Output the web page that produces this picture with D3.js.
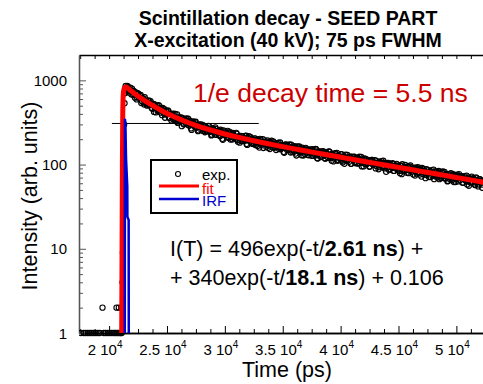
<!DOCTYPE html>
<html>
<head>
<meta charset="utf-8">
<script src="https://cdn.jsdelivr.net/npm/d3@7"></script>
<style>
  body { margin: 0; background: #fff; }
  svg { display: block; font-family: "Liberation Sans", Arial, sans-serif; }
</style>
</head>
<body>
<svg id="chart" width="483" height="384"></svg>
<script>
// ---- data ----
// x tick values (ps) and labels
var xMajor = [20000, 25000, 30000, 35000, 40000, 45000, 50000];
var xMajorLabel = ['2', '2.5', '3', '3.5', '4', '4.5', '5'];
var yMajor = [1, 10, 100, 1000];
var yMajorLabel = ['1', '10', '100', '1000'];

// exp. points before / on the rising edge (time ps, counts)
var preT = [17556, 17815, 17988, 18160, 18333, 18506, 18678, 18851, 19024, 19196,
            19542, 19715, 19887, 20060, 20233, 20406, 20535, 20665, 20794, 20924,
            21010, 21096, 19430, 20639, 20838, 21071,
            21157, 21190, 21215, 21300, 21335, 21365, 21395];
var preI = [1, 1, 1, 1, 1, 1, 1, 1, 1, 1,
            1, 1, 1, 1, 1, 1, 1, 1, 1, 1,
            1, 1, 2, 2, 2, 2,
            4, 9, 76, 300, 535, 703, 805];

// exp. points on the decay: two interleaved runs of 100 ps bins from the peak
var decayStart = 21430, decayStep = 100;
var decayA = [
  861, 766, 836, 754, 819, 681, 737, 748, 622, 702,
  627, 691, 619, 674, 563, 610, 516, 596, 563, 513,
  578, 509, 536, 460, 526, 482, 416, 502, 443, 498,
  414, 447, 470, 403, 359, 435, 396, 430, 357, 398,
  399, 345, 373, 400, 337, 312, 363, 334, 364, 332,
  301, 347, 310, 329, 350, 290, 305, 258, 316, 303,
  320, 276, 294, 254, 293, 299, 268, 251, 286, 263,
  249, 271, 286, 248, 222, 266, 254, 227, 266, 239,
  252, 223, 259, 234, 197, 246, 221, 233, 251, 207,
  239, 214, 198, 229, 218, 202, 232, 186, 216, 204,
  190, 217, 208, 192, 221, 171, 206, 195, 211, 180,
  198, 174, 203, 185, 166, 195, 202, 172, 184, 157,
  194, 172, 180, 158, 186, 171, 192, 160, 176, 162,
  149, 176, 182, 161, 152, 171, 165, 138, 172, 158,
  169, 149, 160, 172, 141, 149, 165, 135, 157, 147,
  164, 142, 129, 151, 156, 133, 146, 151, 129, 145,
  136, 152, 127, 140, 153, 129, 118, 143, 139, 125,
  143, 130, 119, 139, 133, 120, 142, 122, 111, 132,
  118, 137, 126, 111, 130, 119, 132, 111, 123, 102,
  131, 114, 122, 108, 124, 102, 117, 123, 107, 118,
  103, 118, 124, 108, 95, 112, 118, 101, 109, 103,
  113, 95, 109, 114, 99, 103, 90, 110, 106, 93,
  103, 110, 93, 96, 105, 82, 102, 105, 88, 97,
  91, 102, 84, 97, 102, 87, 93, 79, 96, 101,
  83, 93, 91, 80, 95, 85, 98, 82, 86, 90,
  74, 92, 81, 89, 76, 85, 91, 77, 84, 69,
  88, 79, 71, 84, 80, 73, 87, 75, 82, 70,
  79, 67, 81, 72, 83, 73, 68, 77, 63, 77,
  70, 79, 65, 73, 76, 62, 74, 69, 77, 65,
  72, 61, 69, 73, 64, 58, 70, 67, 61, 72,
  61, 67, 57, 70, 64, 58, 67, 61, 53
];
var decayB = [
  792, 861, 715, 782, 742, 797, 671, 677, 724, 594,
  705, 626, 656, 538, 616, 545, 631, 540, 501, 572,
  514, 567, 469, 520, 422, 516, 478, 437, 507, 440,
  467, 386, 440, 454, 392, 403, 441, 359, 405, 333,
  385, 402, 340, 350, 395, 316, 363, 345, 286, 356,
  303, 338, 353, 298, 307, 332, 269, 311, 326, 283,
  324, 275, 249, 300, 283, 255, 296, 266, 242, 279,
  261, 287, 243, 264, 226, 270, 240, 277, 225, 248,
  255, 217, 242, 202, 254, 224, 240, 211, 228, 246,
  198, 229, 237, 206, 213, 238, 195, 216, 182, 219,
  216, 190, 199, 219, 176, 206, 217, 186, 196, 176,
  180, 205, 170, 197, 190, 159, 197, 177, 201, 178,
  184, 162, 193, 168, 153, 183, 170, 188, 158, 176,
  180, 162, 153, 183, 156, 166, 141, 169, 173, 149,
  155, 173, 139, 161, 163, 142, 154, 128, 164, 143,
  156, 139, 159, 128, 148, 158, 138, 130, 151, 141,
  127, 144, 149, 131, 152, 119, 137, 143, 123, 139,
  144, 127, 117, 138, 133, 143, 120, 125, 135, 109,
  122, 133, 138, 113, 124, 115, 133, 106, 125, 122,
  111, 130, 114, 122, 102, 124, 114, 124, 104, 116,
  119, 103, 113, 123, 105, 95, 113, 117, 102, 108,
  94, 111, 114, 101, 103, 113, 96, 105, 88, 108,
  105, 94, 111, 90, 99, 105, 94, 86, 101, 94,
  104, 84, 96, 90, 100, 96, 84, 98, 77, 92,
  85, 99, 86, 93, 79, 95, 86, 90, 76, 92,
  87, 78, 93, 80, 88, 72, 85, 89, 79, 75,
  78, 86, 81, 71, 86, 77, 67, 82, 83, 72,
  84, 72, 69, 80, 74, 82, 69, 75, 64, 76,
  66, 74, 77, 62, 75, 67, 76, 63, 70, 73,
  73, 61, 71, 66, 74, 63, 56, 68, 70, 62,
  68, 58, 70, 62, 55, 67, 64, 58, 65
];

// fit curve samples (time ps, counts)
var fitT = [21090, 21120, 21150, 21180, 21230, 21330, 21430, 21930, 22430, 22930, 23430,
            23930, 24430, 24930, 25430, 25930, 26430, 27430, 28430, 29430, 30430,
            31430, 32430, 33430, 34430, 35430, 36430, 37430, 38430, 39430, 40430,
            41430, 42430, 43430, 44430, 45430, 46430, 47430, 48430, 49430, 50430,
            51430, 52430];
var fitI = [1, 10, 100, 400, 700, 820, 836, 740, 660, 592, 535,
            487, 445, 410, 380, 354, 331, 294, 265, 242, 223,
            207, 192.5, 180, 169, 159, 150, 141.6, 133.6, 126.3, 119.2,
            112.8, 106.7, 100.9, 95.5, 90.4, 85.5, 81.0, 76.6, 72.5, 68.6,
            64.9, 61.4];

// instrument response (IRF)
var irfT = [21355, 21365, 21410, 21460, 21570, 21580, 21690, 21700];
var irfI = [1, 350, 300, 120, 55, 24, 22, 1];

// 1/e level marker
var eLevelT = [20240, 32930];
var eLevel = 307.5;

// ---- layout ----
var svg = d3.select('#chart');
var box = {l: 79, t: 55, r: 483, b: 333};

var x = d3.scaleLinear().domain([17400, 52300]).range([box.l, box.r]);
var y = d3.scaleLog().domain([1, 2000]).range([box.b, box.t]);

svg.append('rect').attr('width', 483).attr('height', 384).attr('fill', '#fff');

svg.append('clipPath').attr('id', 'plotclip')
  .append('rect')
  .attr('x', box.l).attr('y', box.t - 2)
  .attr('width', box.r - box.l).attr('height', box.b - box.t + 6);

// minor tick values
var xMinor = d3.range(17500, 52300, 1250).filter(function(v) { return v % 5000 !== 0; });
var yMinor = [];
[1, 10, 100, 1000].forEach(function(dec) {
  for (var k = 2; k <= 9; k++) {
    if (dec * k < 2000) yMinor.push(dec * k);
  }
});

function styleAxis(g, color) {
  g.selectAll('path.domain').attr('stroke', color).attr('stroke-width', 1.3);
  g.selectAll('.tick line').attr('stroke', color).attr('stroke-width', 1);
  g.selectAll('.tick text').remove();
}

// bottom
svg.append('g')
  .attr('transform', 'translate(0,' + box.b + ')')
  .call(d3.axisBottom(x).tickValues(xMinor).tickSize(-4).tickSizeOuter(0))
  .call(styleAxis, '#000');
svg.append('g')
  .attr('transform', 'translate(0,' + box.b + ')')
  .call(d3.axisBottom(x).tickValues(xMajor).tickSize(-7).tickSizeOuter(0))
  .call(styleAxis, '#000');

// top
svg.append('g')
  .attr('transform', 'translate(0,' + box.t + ')')
  .call(d3.axisTop(x).tickValues(xMinor.concat(xMajor)).tickSize(-4).tickSizeOuter(0))
  .call(styleAxis, '#000');

// left
svg.append('g')
  .attr('transform', 'translate(' + box.l + ',0)')
  .call(d3.axisLeft(y).tickValues(yMinor).tickSize(-4).tickSizeOuter(0))
  .call(styleAxis, '#555');
svg.append('g')
  .attr('transform', 'translate(' + box.l + ',0)')
  .call(d3.axisLeft(y).tickValues(yMajor).tickSize(-7).tickSizeOuter(0))
  .call(styleAxis, '#555');

// tick labels
svg.selectAll('.ylab')
  .data(yMajor)
  .enter()
  .append('text')
  .attr('class', 'ylab')
  .attr('x', 67)
  .attr('y', function(d) { return y(d) + 5.5; })
  .attr('text-anchor', 'end')
  .style('font-size', '15px')
  .text(function(d, i) { return yMajorLabel[i]; });

var xl = svg.selectAll('.xlab')
  .data(xMajor)
  .enter()
  .append('text')
  .attr('class', 'xlab')
  .attr('x', function(d) { return x(d) - 4; })
  .attr('y', 355)
  .attr('text-anchor', 'middle')
  .style('font-size', '15px');
xl.append('tspan').text(function(d, i) { return xMajorLabel[i] + ' 10'; });
xl.append('tspan').attr('dy', -7).style('font-size', '10px').text('4');

// axis titles
svg.append('text')
  .attr('x', 287).attr('y', 377)
  .attr('text-anchor', 'middle')
  .style('font-size', '21.5px')
  .text('Time (ps)');

svg.append('text')
  .attr('transform', 'translate(37,196) rotate(-90)')
  .attr('text-anchor', 'middle')
  .style('font-size', '21.5px')
  .text('Intensity (arb. units)');

// title
svg.append('text')
  .attr('x', 288).attr('y', 25)
  .attr('text-anchor', 'middle')
  .style('font-size', '19.5px').style('font-weight', 'bold')
  .text('Scintillation decay - SEED PART');
svg.append('text')
  .attr('x', 288).attr('y', 46.5)
  .attr('text-anchor', 'middle')
  .style('font-size', '19.5px').style('font-weight', 'bold')
  .text('X-excitation (40 kV); 75 ps FWHM');

// ---- data marks ----
var plot = svg.append('g').attr('clip-path', 'url(#plotclip)');

// 1/e level line
plot.append('line')
  .attr('x1', x(eLevelT[0])).attr('x2', x(eLevelT[1]))
  .attr('y1', y(eLevel)).attr('y2', y(eLevel))
  .attr('stroke', '#000').attr('stroke-width', 1);

var expPts = preT.map(function(t, i) { return {t: t, v: preI[i]}; })
  .concat(decayA.map(function(v, i) { return {t: decayStart + i * decayStep, v: v}; }))
  .concat(decayB.map(function(v, i) { return {t: decayStart + decayStep / 2 + i * decayStep, v: v}; }));

plot.selectAll('.exp')
  .data(expPts)
  .enter()
  .append('circle')
  .attr('class', 'exp')
  .attr('cx', function(d) { return x(d.t); })
  .attr('cy', function(d) { return y(d.v); })
  .attr('r', 2.6)
  .attr('fill', 'none')
  .attr('stroke', '#000')
  .attr('stroke-width', 1.1);

var fitLine = d3.line()
  .x(function(d, i) { return x(fitT[i]); })
  .y(function(d) { return y(d); })
  .curve(d3.curveMonotoneX);
plot.append('path')
  .attr('d', fitLine(fitI))
  .attr('fill', 'none')
  .attr('stroke', '#ff0000')
  .attr('stroke-width', 5)
  .attr('stroke-linejoin', 'round');

var irfLine = d3.line()
  .x(function(d, i) { return x(irfT[i]); })
  .y(function(d) { return y(d); });
plot.append('path')
  .attr('d', irfLine(irfI))
  .attr('fill', 'none')
  .attr('stroke', '#0000d0')
  .attr('stroke-width', 2.5);

// ---- legend ----
var lg = svg.append('g');
lg.append('rect')
  .attr('x', 151).attr('y', 160).attr('width', 86).attr('height', 53)
  .attr('fill', '#fff').attr('stroke', '#000').attr('stroke-width', 2);
lg.append('circle')
  .attr('cx', 178).attr('cy', 174).attr('r', 2.5)
  .attr('fill', 'none').attr('stroke', '#000').attr('stroke-width', 1.1);
lg.append('text').attr('x', 202).attr('y', 179.5)
  .style('font-size', '15px').text('exp.');
lg.append('line')
  .attr('x1', 159).attr('x2', 199).attr('y1', 186).attr('y2', 186)
  .attr('stroke', '#ff0000').attr('stroke-width', 3);
lg.append('text').attr('x', 202).attr('y', 193.5)
  .style('font-size', '15px').attr('fill', '#ff0000').text('fit');
lg.append('line')
  .attr('x1', 159).attr('x2', 199).attr('y1', 199).attr('y2', 199)
  .attr('stroke', '#0000d0').attr('stroke-width', 2.5);
lg.append('text').attr('x', 202).attr('y', 205.5)
  .style('font-size', '15px').attr('fill', '#0000d0').text('IRF');

// ---- annotations ----
svg.append('text')
  .attr('x', 193).attr('y', 102)
  .style('font-size', '26.5px').attr('fill', '#cc0000')
  .text('1/e decay time = 5.5 ns');

var eq1 = svg.append('text').attr('x', 170).attr('y', 256).style('font-size', '21.5px');
eq1.append('tspan').text('I(T) = 496exp(-t/');
eq1.append('tspan').style('font-weight', 'bold').text('2.61 ns');
eq1.append('tspan').text(') +');

var eq2 = svg.append('text').attr('x', 170).attr('y', 285).style('font-size', '21.5px');
eq2.append('tspan').text('+ 340exp(-t/');
eq2.append('tspan').style('font-weight', 'bold').text('18.1 ns');
eq2.append('tspan').text(') + 0.106');
</script>
</body>
</html>
